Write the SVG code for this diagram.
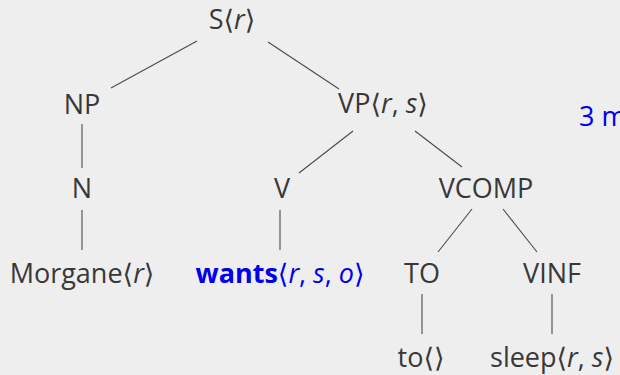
<svg xmlns="http://www.w3.org/2000/svg" width="620" height="375" viewBox="0 0 620 375">
  <style>
    text { font-family: "Open Sans", "DejaVu Sans", sans-serif; font-size: 27px; fill: #383838; text-anchor: middle; }
    .it { font-style: italic; }
    .hl { fill: #0000ee; }
    .b { font-weight: bold; }
    .edge { stroke: #4a4a4a; stroke-width: 1.1; fill: none; }
  </style>
  <rect width="620" height="375" fill="#eeeeee"/>

  <g id="edges">
    <line class="edge" x1="197" y1="41" x2="111" y2="88"/>
    <line class="edge" x1="268" y1="42" x2="339" y2="89"/>
    <line class="edge" x1="82" y1="124" x2="82" y2="168"/>
    <line class="edge" x1="353" y1="131" x2="299" y2="173"/>
    <line class="edge" x1="415" y1="131" x2="462" y2="167"/>
    <line class="edge" x1="82" y1="210" x2="82" y2="250"/>
    <line class="edge" x1="280" y1="210" x2="280" y2="250"/>
    <line class="edge" x1="472" y1="209" x2="438" y2="252"/>
    <line class="edge" x1="503" y1="209" x2="537" y2="252"/>
    <line class="edge" x1="422" y1="294" x2="422" y2="334"/>
    <line class="edge" x1="552" y1="294" x2="552" y2="334"/>
  </g>

  <g id="S"><text x="232" y="29">S⟨<tspan class="it">r</tspan>⟩</text></g>
  <g id="NP"><text x="82" y="114">NP</text></g>
  <g id="VP"><text x="383" y="113">VP⟨<tspan class="it">r</tspan>, <tspan class="it">s</tspan>⟩</text></g>
  <g id="N"><text x="82" y="198">N</text></g>
  <g id="V"><text x="282" y="198">V</text></g>
  <g id="VCOMP"><text x="486" y="198">VCOMP</text></g>
  <g id="Morgane"><text x="82" y="283">Morgane⟨<tspan class="it">r</tspan>⟩</text></g>
  <g id="wants"><text x="280" y="283" class="hl"><tspan class="b">wants</tspan>⟨<tspan class="it">r</tspan>, <tspan class="it">s</tspan>, <tspan class="it">o</tspan>⟩</text></g>
  <g id="TO"><text x="422" y="283">TO</text></g>
  <g id="VINF"><text x="552" y="283">VINF</text></g>
  <g id="to"><text x="421" y="367">to⟨⟩</text></g>
  <g id="sleep"><text x="552" y="367">sleep⟨<tspan class="it">r</tspan>, <tspan class="it">s</tspan>⟩</text></g>
  <g id="note"><text x="579" y="126" class="hl" style="text-anchor:start">3 m</text></g>
</svg>
